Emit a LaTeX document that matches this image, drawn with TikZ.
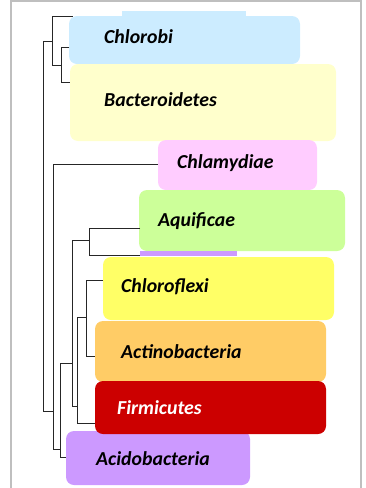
\documentclass[tikz,border=0pt]{standalone}
\usepackage{fontspec}
\setmainfont{Carlito}
\usepackage{tikz}
\definecolor{chlorobiblue}{HTML}{CCECFF}
\definecolor{bactyellow}{HTML}{FFFFCC}
\definecolor{chlampink}{HTML}{FFCCFF}
\definecolor{aquigreen}{HTML}{CCFF99}
\definecolor{acidopurple}{HTML}{CC99FF}
\definecolor{flexiyellow}{HTML}{FFFF66}
\definecolor{actinoorange}{HTML}{FFCC66}
\definecolor{firmired}{HTML}{CC0000}

\tikzset{
  phylum/.style={rounded corners=8pt},
  taxon/.style={font=\bfseries\itshape\fontsize{19.8}{22}\selectfont,anchor=west,inner sep=0pt},
  branch/.style={line width=0.9pt,color=black!85},
}

\begin{document}
\begin{tikzpicture}[x=1pt,y=-1pt]
  \useasboundingbox (0,0) rectangle (366,488);
  \draw[line width=2pt,color=black!25] (11,492) -- (11,1) -- (361,1) -- (361,492);

  % phylum boxes
  \fill[chlorobiblue] (122,11) rectangle (246,17);
  \fill[chlorobiblue,phylum] (69,16) rectangle (300,64);
  \fill[bactyellow,phylum] (70,64) rectangle (336,141);
  \fill[chlampink,phylum] (158,140) rectangle (317,190);
  \fill[aquigreen,phylum] (139,190) rectangle (345,251);
  \fill[acidopurple] (140,251) rectangle (237,256);
  \fill[flexiyellow,phylum] (103,257) rectangle (334,320);
  \fill[actinoorange,phylum] (95,321) rectangle (326,382);
  \fill[acidopurple,phylum] (66,431) rectangle (250,485);
  \fill[firmired,phylum] (95,381) rectangle (326,434);

  \node[taxon] (chlorobi) at (104,37) {Chlorobi};
  \node[taxon] (bacteroidetes) at (104,100) {Bacteroidetes};
  \node[taxon] (chlamydiae) at (177,163) {Chlamydiae};
  \node[taxon] (aquificae) at (158,221) {Aquificae};
  \node[taxon] (chloroflexi) at (121,287) {Chloroflexi};
  \node[taxon] (actinobacteria) at (121,352) {Actinobacteria};
  \node[taxon,text=white] (firmicutes) at (117,408) {Firmicutes};
  \node[taxon] (acidobacteria) at (96,459) {Acidobacteria};

  % tree
  \draw[branch] (43.3,41.7) -- (43.3,411) -- (53,411);
  \draw[branch] (43.3,41.7) -- (52.7,41.7);
  \draw[branch] (72.7,16) -- (52.7,16) -- (52.7,65) -- (61.7,65);
  \draw[branch] (69.3,47.3) -- (61.7,47.3) -- (61.7,82.7) -- (70,82.7);
  \draw[branch] (158,164) -- (53.3,164) -- (53.3,449) -- (60.7,449);
  \draw[branch] (72.3,363.5) -- (60.7,363.5) -- (60.7,457) -- (66,457);
  \draw[branch] (89.3,240) -- (72.3,240) -- (72.3,406.7) -- (76.7,406.7);
  \draw[branch] (140,228) -- (89.3,228) -- (89.3,255) -- (140,255);
  \draw[branch] (86.7,317.3) -- (77,317.3) -- (77,423) -- (95,423);
  \draw[branch] (103,280) -- (86.7,280) -- (86.7,356) -- (95,356);
\end{tikzpicture}
\end{document}
